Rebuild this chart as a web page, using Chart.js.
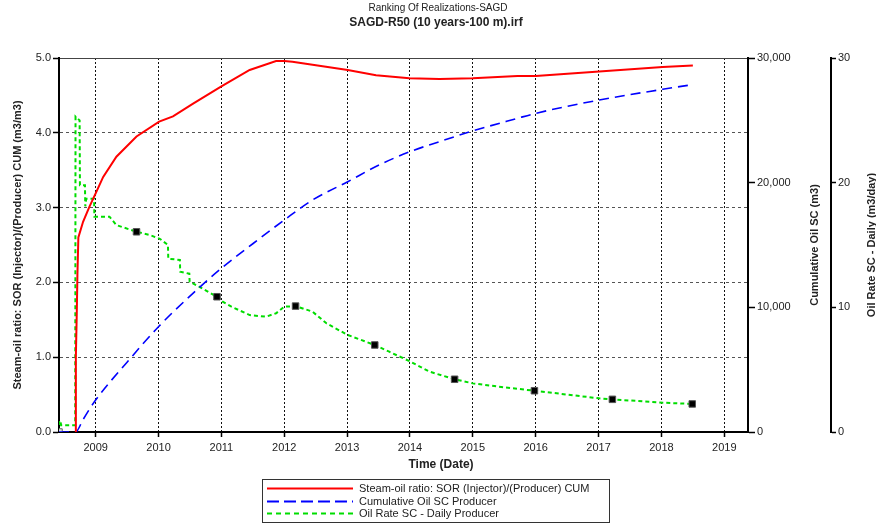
<!DOCTYPE html>
<html>
<head>
<meta charset="utf-8">
<script src="https://cdn.jsdelivr.net/npm/chart.js@4.4.1/dist/chart.umd.min.js"></script>
<style>
  html, body { margin: 0; padding: 0; background: #ffffff; }
  canvas { display: block; }
</style>
</head>
<body>
<canvas id="chart" width="876" height="527" style="width:876px;height:527px"></canvas>
<script>
// ---- Text ----
const CHART_TITLE = 'Ranking Of Realizations-SAGD';
const CHART_SUBTITLE = 'SAGD-R50 (10 years-100 m).irf';
const X_TITLE = 'Time (Date)';
const SOR_TITLE = 'Steam-oil ratio: SOR (Injector)/(Producer) CUM (m3/m3)';
const CUM_TITLE = 'Cumulative Oil SC (m3)';
const RATE_TITLE = 'Oil Rate SC - Daily (m3/day)';
const SERIES_NAMES = [
  'Steam-oil ratio: SOR (Injector)/(Producer) CUM',
  'Cumulative Oil SC Producer',
  'Oil Rate SC - Daily Producer'
];

// ---- Axis ranges and ticks (time in decimal years) ----
const TIME_MIN = 2008.417;
const TIME_MAX = 2019.377;
const YEAR_TICKS = [2009, 2010, 2011, 2012, 2013, 2014, 2015, 2016, 2017, 2018, 2019];
const SOR_TICKS = [0, 1, 2, 3, 4, 5];
const CUM_TICKS = [0, 10000, 20000, 30000];
const RATE_TICKS = [0, 10, 20, 30];

// ---- Steam-oil ratio, cumulative (m3/m3) ----
const SOR_YEARS = [2008.68, 2008.685, 2008.70, 2008.71, 2008.725, 2008.80, 2008.90, 2009.00, 2009.12,
  2009.33, 2009.65, 2010.01, 2010.23, 2010.55, 2011.00, 2011.45, 2011.87, 2012.00, 2012.13, 2012.45,
  2013.01, 2013.46, 2013.99, 2014.47, 2015.00, 2015.71, 2016.00, 2017.01, 2018.02, 2018.50];
const SOR_VALUES = [0, 1.0, 1.6, 2.1, 2.6, 2.81, 3.01, 3.19, 3.41,
  3.68, 3.95, 4.15, 4.22, 4.39, 4.62, 4.84, 4.96, 4.96, 4.95, 4.91,
  4.84, 4.77, 4.73, 4.72, 4.73, 4.76, 4.76, 4.82, 4.88, 4.90];

// ---- Cumulative oil produced (m3) ----
const CUM_YEARS = [2008.417, 2008.68, 2008.80, 2009.00, 2009.50, 2010.00, 2010.50, 2011.00, 2011.50,
  2012.00, 2012.45, 2013.01, 2013.51, 2014.00, 2014.47, 2015.00, 2015.71, 2016.00, 2017.01, 2018.02, 2018.45];
const CUM_VALUES = [0, 0, 1000, 2567, 5600, 8447, 10900, 13131, 15100,
  17005, 18610, 20080, 21420, 22490, 23290, 24150, 25160, 25560, 26630, 27490, 27830];

// ---- Daily oil rate (m3/day) ----
const RATE_YEARS = [2008.417, 2008.42, 2008.44, 2008.45, 2008.675, 2008.68, 2008.745, 2008.75, 2008.83,
  2008.835, 2008.85, 2008.975, 2008.98, 2009.22, 2009.33, 2009.65, 2009.86, 2010.02, 2010.15, 2010.155,
  2010.34, 2010.345, 2010.49, 2010.495, 2010.65, 2010.93, 2011.02, 2011.16, 2011.45, 2011.71, 2011.87,
  2012.00, 2012.18, 2012.45, 2012.67, 2013.01, 2013.44, 2013.67, 2014.01, 2014.31, 2014.71, 2015.00,
  2015.42, 2015.98, 2017.01, 2017.22, 2018.02, 2018.49];
const RATE_VALUES = [0, 0.9, 0.9, 0.55, 0.55, 25.3, 25.0, 19.8, 19.8,
  18.1, 18.7, 18.7, 17.27, 17.27, 16.6, 16.06, 15.8, 15.5, 15.0, 13.9,
  13.8, 12.85, 12.7, 12.05, 11.65, 10.85, 10.45, 10.05, 9.38, 9.25, 9.52,
  10.05, 10.1, 9.65, 8.72, 7.78, 6.98, 6.44, 5.64, 4.84, 4.23, 3.9,
  3.63, 3.31, 2.7, 2.62, 2.35, 2.25];
// dates carrying a square symbol on the rate curve
const MARKER_YEARS = [2008.417, 2009.65, 2010.93, 2012.18, 2013.44, 2014.71, 2015.98, 2017.22, 2018.49];

const FONT = "'Liberation Sans', Arial, Helvetica, sans-serif";
const TEXT_COLOR = '#222222';

function toPoints(xs, ys) { return xs.map((x, i) => ({ x: x, y: ys[i] })); }
const isMarker = x => MARKER_YEARS.some(m => Math.abs(m - x) < 1e-6);

const ratePoints = toPoints(RATE_YEARS, RATE_VALUES);

// Titles on the right-hand axes read bottom-to-top, plus the framed legend
const decorations = {
  id: 'decorations',
  afterDraw(chart) {
    const ctx = chart.ctx;
    const area = chart.chartArea;
    ctx.save();
    ctx.fillStyle = TEXT_COLOR;
    ctx.textAlign = 'center';
    ctx.textBaseline = 'middle';

    ctx.font = '10px ' + FONT;
    ctx.fillText(CHART_TITLE, 438, 8);
    ctx.font = 'bold 12px ' + FONT;
    ctx.fillText(CHART_SUBTITLE, 436, 23);

    ctx.font = 'bold 12px ' + FONT;
    ctx.fillText(X_TITLE, 441, 465);

    const midY = (area.top + area.bottom) / 2;
    ctx.font = 'bold 11px ' + FONT;
    [[chart.scales.y1, 67, CUM_TITLE], [chart.scales.y2, 41, RATE_TITLE]].forEach(([scale, dx, text]) => {
      ctx.save();
      ctx.translate(scale.left + dx, midY);
      ctx.rotate(-Math.PI / 2);
      ctx.fillText(text, 0, 0);
      ctx.restore();
    });

    // legend
    const box = { x: 262.5, y: 479.5, w: 347, h: 43 };
    ctx.strokeStyle = '#333333';
    ctx.lineWidth = 1;
    ctx.strokeRect(box.x, box.y, box.w, box.h);
    ctx.font = '11px ' + FONT;
    ctx.textAlign = 'left';
    const rowY = [488.5, 501.5, 513.5];
    const legendDash = [[], [12, 5], [5, 4]];
    chart.data.datasets.forEach((ds, i) => {
      ctx.save();
      ctx.strokeStyle = ds.borderColor;
      ctx.lineWidth = 2;
      ctx.setLineDash(legendDash[i]);
      ctx.beginPath();
      ctx.moveTo(267, rowY[i]);
      ctx.lineTo(353, rowY[i]);
      ctx.stroke();
      ctx.restore();
      ctx.fillStyle = TEXT_COLOR;
      ctx.fillText(ds.label, 359, rowY[i] + 0.5);
    });
    ctx.restore();
  }
};

const tickFont = { family: FONT, size: 11 };

new Chart(document.getElementById('chart'), {
  type: 'line',
  data: {
    datasets: [
      {
        label: SERIES_NAMES[0],
        data: toPoints(SOR_YEARS, SOR_VALUES),
        yAxisID: 'y',
        borderColor: '#ff0000',
        borderWidth: 2,
        pointRadius: 0,
        tension: 0
      },
      {
        label: SERIES_NAMES[1],
        data: toPoints(CUM_YEARS, CUM_VALUES),
        yAxisID: 'y1',
        borderColor: '#0000ff',
        borderWidth: 1.6,
        borderDash: [10, 6],
        pointRadius: 0,
        cubicInterpolationMode: 'monotone'
      },
      {
        label: SERIES_NAMES[2],
        data: ratePoints,
        yAxisID: 'y2',
        borderColor: '#00dd00',
        borderWidth: 2,
        borderDash: [4, 3],
        tension: 0,
        pointStyle: 'rect',
        pointRadius: ratePoints.map(p => isMarker(p.x) ? 4.6 : 0),
        pointBackgroundColor: ratePoints.map((p, i) => i === 0 ? '#dddddd' : '#000000'),
        pointBorderColor: ratePoints.map((p, i) => i === 0 ? '#666666' : '#555555'),
        pointBorderWidth: 1
      }
    ]
  },
  options: {
    responsive: false,
    animation: false,
    events: [],
    layout: { padding: { top: 58, left: 0, right: 0, bottom: 0 } },
    plugins: { legend: { display: false }, tooltip: { enabled: false }, title: { display: false } },
    scales: {
      x: {
        type: 'linear',
        min: TIME_MIN,
        max: TIME_MAX,
        afterBuildTicks: s => { s.ticks = YEAR_TICKS.map(v => ({ value: v })); },
        afterFit: s => { s.height = 95; },
        ticks: { font: tickFont, color: TEXT_COLOR, padding: 4, maxRotation: 0, autoSkip: false, callback: v => String(v) },
        grid: { color: '#111111', lineWidth: 1, tickLength: 5, tickColor: '#000000', tickWidth: 1.5 },
        border: { display: true, color: '#000000', width: 2, dash: [2, 2] }
      },
      y: {
        position: 'left',
        min: 0,
        max: 5,
        afterBuildTicks: s => { s.ticks = SOR_TICKS.map(v => ({ value: v })); },
        afterFit: s => { s.width = 59; },
        ticks: { font: tickFont, color: TEXT_COLOR, padding: 2, callback: v => v.toFixed(1) },
        grid: {
          color: c => (c.tick && c.tick.value === 0) ? 'rgba(0,0,0,0)' : (c.tick && c.tick.value === 5 ? '#444444' : '#555555'),
          lineWidth: 1, tickLength: 6, tickColor: '#000000', tickWidth: 1.5
        },
        border: { display: true, color: '#000000', width: 2, dash: c => (c.tick && c.tick.value === 5) ? [] : [3, 3] },
        title: { display: true, text: SOR_TITLE, font: { family: FONT, size: 11, weight: 'bold' }, color: TEXT_COLOR, padding: { top: 11, bottom: 0 } }
      },
      y1: {
        position: 'right',
        min: 0,
        max: 30000,
        afterBuildTicks: s => { s.ticks = CUM_TICKS.map(v => ({ value: v })); },
        afterFit: s => { s.width = 83; },
        ticks: { font: tickFont, color: TEXT_COLOR, padding: 2, callback: v => v.toLocaleString('en-US') },
        grid: { drawOnChartArea: false, tickLength: 7, tickColor: '#000000', tickWidth: 1.5 },
        border: { display: true, color: '#000000', width: 2 }
      },
      y2: {
        position: 'right',
        min: 0,
        max: 30,
        afterBuildTicks: s => { s.ticks = RATE_TICKS.map(v => ({ value: v })); },
        afterFit: s => { s.width = 45; },
        ticks: { font: tickFont, color: TEXT_COLOR, padding: 2, callback: v => String(v) },
        grid: { drawOnChartArea: false, tickLength: 5, tickColor: '#000000', tickWidth: 1.5 },
        border: { display: true, color: '#000000', width: 2 }
      }
    }
  },
  plugins: [decorations]
});
</script>
</body>
</html>
